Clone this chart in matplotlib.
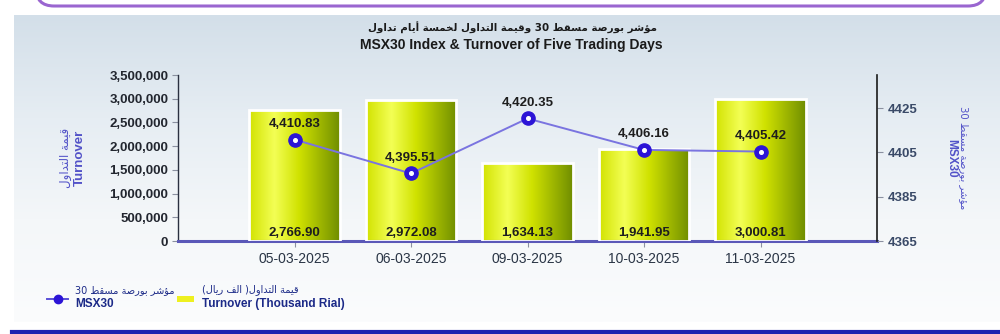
import re
import numpy as np
import matplotlib
matplotlib.use("Agg")
import matplotlib.pyplot as plt
from matplotlib.colors import LinearSegmentedColormap
from matplotlib.patches import FancyBboxPatch, Rectangle
from matplotlib.lines import Line2D

# ---------------- data ----------------
dates = ["05-03-2025", "06-03-2025", "09-03-2025", "10-03-2025", "11-03-2025"]
turnover_thousand = [2766.90, 2972.08, 1634.13, 1941.95, 3000.81]   # thousand rial
msx30 = [4410.83, 4395.51, 4420.35, 4406.16, 4405.42]
left_ticks = [0, 500000, 1000000, 1500000, 2000000, 2500000, 3000000, 3500000]
right_ticks = [4365, 4385, 4405, 4425]

title_ar = "مؤشر بورصة مسقط 30 وقيمة التداول لخمسة أيام تداول"
title_en = "MSX30 Index & Turnover of Five Trading Days"
ylab_ar = "قيمة التداول"
ylab_en = "Turnover"
y2lab_ar = "مؤشر بورصة مسقط 30"
y2lab_en = "MSX30"
leg1_ar = "مؤشر بورصة مسقط 30"
leg1_en = "MSX30"
leg2_ar = "قيمة التداول( الف ريال)"
leg2_en = "Turnover (Thousand Rial)"

# ---------------- minimal Arabic shaping ----------------
AR_FORMS = {
    '\u0627': ('\uFE8D', '\uFE8E', None, None),
    '\u0623': ('\uFE83', '\uFE84', None, None),
    '\u0624': ('\uFE85', '\uFE86', None, None),
    '\u0628': ('\uFE8F', '\uFE90', '\uFE91', '\uFE92'),
    '\u0629': ('\uFE93', '\uFE94', None, None),
    '\u062A': ('\uFE95', '\uFE96', '\uFE97', '\uFE98'),
    '\u062E': ('\uFEA5', '\uFEA6', '\uFEA7', '\uFEA8'),
    '\u062F': ('\uFEA9', '\uFEAA', None, None),
    '\u0631': ('\uFEAD', '\uFEAE', None, None),
    '\u0633': ('\uFEB1', '\uFEB2', '\uFEB3', '\uFEB4'),
    '\u0634': ('\uFEB5', '\uFEB6', '\uFEB7', '\uFEB8'),
    '\u0635': ('\uFEB9', '\uFEBA', '\uFEBB', '\uFEBC'),
    '\u0637': ('\uFEC1', '\uFEC2', '\uFEC3', '\uFEC4'),
    '\u0641': ('\uFED1', '\uFED2', '\uFED3', '\uFED4'),
    '\u0642': ('\uFED5', '\uFED6', '\uFED7', '\uFED8'),
    '\u0644': ('\uFEDD', '\uFEDE', '\uFEDF', '\uFEE0'),
    '\u0645': ('\uFEE1', '\uFEE2', '\uFEE3', '\uFEE4'),
    '\u0648': ('\uFEED', '\uFEEE', None, None),
    '\u064A': ('\uFEF1', '\uFEF2', '\uFEF3', '\uFEF4'),
}


def _shape(s):
    out = []
    n = len(s)
    for i, c in enumerate(s):
        if c not in AR_FORMS:
            out.append(c)
            continue
        f = AR_FORMS[c]
        prev = s[i - 1] if i > 0 else None
        nxt = s[i + 1] if i < n - 1 else None
        jp = prev in AR_FORMS and AR_FORMS[prev][2] is not None
        jn = nxt in AR_FORMS and f[2] is not None
        if jp and jn:
            out.append(f[3])
        elif jp:
            out.append(f[1])
        elif jn:
            out.append(f[2])
        else:
            out.append(f[0])
    return ''.join(out)


def ar(s):
    shaped = _shape(s)
    tokens = re.findall(r'[0-9A-Za-z.,]+|.', shaped)
    mirror = {'(': ')', ')': '('}
    return ''.join(mirror.get(t, t) for t in reversed(tokens))


AR_FONT = ['DejaVu Sans']
LAT_FONT = ['Liberation Sans', 'DejaVu Sans']

# ---------------- figure ----------------
W, H = 1000, 334
fig = plt.figure(figsize=(W / 100, H / 100), dpi=100)
fig.patch.set_facecolor('white')


def fx(px):
    return px / W


def fy(py):
    return 1 - py / H


# background gradient panel
bg = fig.add_axes([fx(14), fy(322), fx(1000) - fx(14), fy(15) - fy(322)], zorder=-10)
grad = np.linspace(0, 1, 256).reshape(-1, 1)
bg_cmap = LinearSegmentedColormap.from_list('bg', ['#d3dfe9', '#e6edf3', '#f4f7f9', '#fbfcfd'])
bg.imshow(grad, aspect='auto', cmap=bg_cmap, extent=[0, 1, 0, 1], origin='upper')
bg.set_axis_off()

# top purple rounded border (bottom of a box above)
box = FancyBboxPatch((0.36, 3.28), 9.5, 1.0, boxstyle="round,pad=0,rounding_size=0.18",
                     transform=fig.dpi_scale_trans, facecolor='white',
                     edgecolor='#9a66d0', linewidth=2.2, zorder=5)
fig.patches.append(box)

# bottom blue line
fig.add_artist(Line2D([fx(12), fx(1000)], [fy(331.5), fy(331.5)], transform=fig.transFigure,
                      color='#1e22b0', linewidth=3.0))

# titles
fig.text(fx(513), fy(28), ar(title_ar), ha='center', va='center', fontsize=7.4,
         fontweight='bold', family=AR_FONT, color='#1a1a1a')
fig.text(fx(511), fy(45), title_en, ha='center', va='center', fontsize=10,
         fontweight='bold', family=['Liberation Sans Narrow', 'Liberation Sans', 'DejaVu Sans'],
         color='#1a1a1a')

# main axes
ax = fig.add_axes([fx(178), fy(241), fx(877) - fx(178), fy(75) - fy(241)])
ax.patch.set_visible(False)
x = np.arange(len(dates))
turnover_rial = [v * 1000 for v in turnover_thousand]

bars = ax.bar(x, turnover_rial, width=0.78, color='none', edgecolor='white',
              linewidth=2, zorder=3)
bar_cmap = LinearSegmentedColormap.from_list(
    'bar', [(0.0, '#d2e200'), (0.28, '#f3ff55'), (0.55, '#d0e200'), (1.0, '#708e00')])
hgrad = np.linspace(0, 1, 256).reshape(1, -1)
for b in bars:
    x0, w, h = b.get_x(), b.get_width(), b.get_height()
    im = ax.imshow(hgrad, aspect='auto', cmap=bar_cmap, extent=[x0, x0 + w, 0, h],
                   origin='lower', zorder=2)
    im.set_clip_path(b)

ax.set_xlim(-1.0, 5.0)
ax.set_ylim(0, 3500000)
ax.set_yticks(left_ticks)
ax.set_yticklabels([f"{t:,}" for t in left_ticks])
ax.set_xticks(x)
ax.set_xticklabels(dates)

for lab in ax.get_yticklabels():
    lab.set_fontweight('bold')
    lab.set_fontsize(9.5)
    lab.set_color('#22262f')
    lab.set_family(LAT_FONT)
for lab in ax.get_xticklabels():
    lab.set_fontsize(10)
    lab.set_color('#2a3545')
    lab.set_family(LAT_FONT)

ax.tick_params(axis='y', length=4, color='#8a90a0', pad=3)
ax.tick_params(axis='x', length=4, color='#8a90a0', pad=4)
for s in ['top', 'right']:
    ax.spines[s].set_visible(False)
ax.spines['left'].set_color('#2a3040')
ax.spines['left'].set_linewidth(1.0)
ax.spines['bottom'].set_color('#5a58b8')
ax.spines['bottom'].set_linewidth(2.2)

# bar labels
for xi, v in zip(x, turnover_thousand):
    ax.annotate(f"{v:,.2f}", (xi, 0), xytext=(0, 1.5), textcoords='offset points',
                ha='center', va='bottom', fontsize=9.5, fontweight='bold',
                color='#1e1e1e', family=LAT_FONT, zorder=6)

# twin axis for MSX30
ax2 = ax.twinx()
ax2.set_ylim(4365, 4440)
ax2.set_yticks(right_ticks)
ax2.plot(x, msx30, color='#7a74e0', linewidth=1.4, zorder=4)
ax2.plot(x, msx30, linestyle='none', marker='o', markersize=9.5,
         markerfacecolor='#2c14d6', markeredgecolor='#2c14d6', zorder=5)
ax2.plot(x, msx30, linestyle='none', marker='o', markersize=2.6,
         markerfacecolor='white', markeredgecolor='white', zorder=6)
for xi, v in zip(x, msx30):
    ax2.annotate(f"{v:,.2f}", (xi, v), xytext=(0, 7), textcoords='offset points',
                 ha='center', va='bottom', fontsize=9.5, fontweight='bold',
                 color='#1e1e1e', family=LAT_FONT, zorder=7)
ax2.set_xlim(-1.0, 5.0)
for s in ['top', 'left', 'bottom']:
    ax2.spines[s].set_visible(False)
ax2.spines['right'].set_color('#1a1a1a')
ax2.spines['right'].set_linewidth(1.2)
ax2.tick_params(axis='y', length=4, color='#8a90a0', pad=4)
for lab in ax2.get_yticklabels():
    lab.set_fontweight('bold')
    lab.set_fontsize(9.5)
    lab.set_color('#3a4a68')
    lab.set_family(LAT_FONT)

# axis titles
lab_col = '#5252c8'
fig.text(fx(66), fy(158), ar(ylab_ar), rotation=90, ha='center', va='center',
         fontsize=8.5, family=AR_FONT, color=lab_col)
fig.text(fx(80), fy(158), ylab_en, rotation=90, ha='center', va='center',
         fontsize=9.5, fontweight='bold', family=LAT_FONT, color=lab_col)
fig.text(fx(964), fy(158), ar(y2lab_ar), rotation=270, ha='center', va='center',
         fontsize=7.3, family=AR_FONT, color=lab_col)
fig.text(fx(951), fy(158), y2lab_en, rotation=270, ha='center', va='center',
         fontsize=8.5, fontweight='bold', family=LAT_FONT, color=lab_col)

# legend (manual)
leg_col = '#1c2a88'
fig.add_artist(Line2D([fx(47), fx(68)], [fy(299), fy(299)], transform=fig.transFigure,
                      color='#5a50d8', linewidth=1.4))
fig.add_artist(Line2D([fx(57.5)], [fy(299)], transform=fig.transFigure, marker='o',
                      markersize=6, color='#2c14d6', linestyle='none'))
fig.text(fx(75), fy(290), ar(leg1_ar), ha='left', va='center', fontsize=7.0,
         family=AR_FONT, color=leg_col)
fig.text(fx(75), fy(304), leg1_en, ha='left', va='center', fontsize=8.5,
         fontweight='bold', family=LAT_FONT, color=leg_col)
fig.patches.append(Rectangle((fx(177), fy(302)), fx(194) - fx(177), fy(296) - fy(302),
                             transform=fig.transFigure, facecolor='#eef020',
                             edgecolor='none'))
fig.text(fx(202), fy(290), ar(leg2_ar), ha='left', va='center', fontsize=7.0,
         family=AR_FONT, color=leg_col)
fig.text(fx(202), fy(304), leg2_en, ha='left', va='center', fontsize=8.5,
         fontweight='bold', family=LAT_FONT, color=leg_col)

fig.savefig('out.png', dpi=100)
